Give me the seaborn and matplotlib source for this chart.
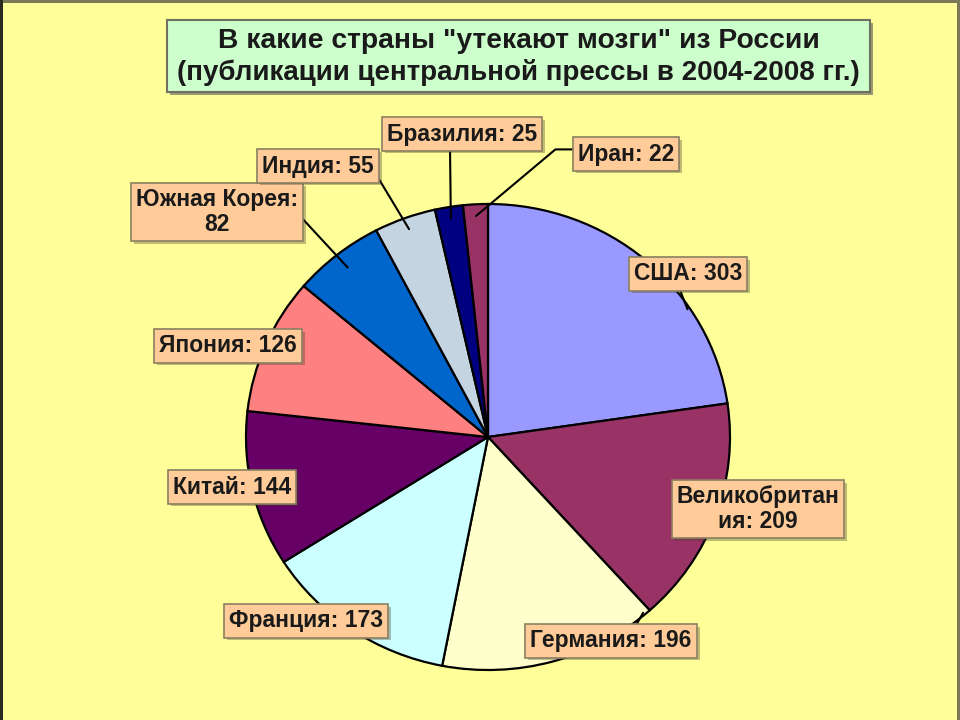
import matplotlib
matplotlib.use("Agg")
import matplotlib.pyplot as plt
import matplotlib.patheffects as pe
from matplotlib.patches import Rectangle
import numpy as np
import seaborn as sns

# ---- data ----
countries = ["США", "Великобритания", "Германия", "Франция", "Китай",
             "Япония", "Южная Корея", "Индия", "Бразилия", "Иран"]
counts = [303, 209, 196, 173, 144, 126, 82, 55, 25, 22]
label_texts = ["США: 303", "Великобритан\nия: 209", "Германия: 196", "Франция: 173",
               "Китай: 144", "Япония: 126", "Южная Корея:\n82", "Индия: 55",
               "Бразилия: 25", "Иран: 22"]
slice_colors = ["#9999FF", "#993366", "#FFFFCC", "#CCFFFF", "#660066",
                "#FF8080", "#0066CC", "#C4D4E0", "#000080", "#993366"]
title_lines = ["В какие страны \"утекают мозги\" из России",
               "(публикации центральной прессы в 2004-2008 гг.)"]

# ---- layout (label centres in pixels from top-left, anchor fraction in wedge, leader start) ----
label_pos = [(688, 274), (758, 509), (611, 641), (306, 621), (232, 487),
             (228, 346), (217, 212), (318, 166), (462, 134), (626, 154)]
anchor_frac = [0.69, 0.5, 0.03, 0.5, 0.5, 0.5, 0.5, 0.5, 0.5, 0.5]
anchor_r = [0.99, 0.97, 0.99, 0.97, 0.97, 0.97, 0.93, 0.95, 0.95, 0.95]
leader_rel = [(0.41, 0.0), None, (0.64, 1.0), None, None, None,
              (1.0, 0.46), (1.0, 0.3), (0.42, 0.0), (0.0, 0.7)]
leader_conn = [None] * 9 + ["angle,angleA=180,angleB=40,rad=0"]

sns.set_theme(style="white")
plt.rcParams["font.family"] = ["Liberation Sans", "DejaVu Sans"]

W, H = 960, 720
fig = plt.figure(figsize=(9.6, 7.2), dpi=100, facecolor="#FFFF99")

# pie axes: centre (488,437) px, radii 242 x 233
cx, cy, rx, ry = 488, 437, 242, 233
ax = fig.add_axes([(cx - rx) / W, (H - cy - ry) / H, 2 * rx / W, 2 * ry / H])
ax.set_facecolor("none")
palette = sns.color_palette(slice_colors)
wedges, _ = ax.pie(counts, colors=palette, startangle=90, counterclock=False,
                   radius=1.0, wedgeprops=dict(edgecolor="black", linewidth=1.6))
ax.set_aspect("auto")
ax.set_xlim(-1, 1)
ax.set_ylim(-1, 1)
ax.axis("off")

total = sum(counts)
cum = np.concatenate([[0], np.cumsum(counts)])
for i, (txt, pos) in enumerate(zip(label_texts, label_pos)):
    frac = (cum[i] + anchor_frac[i] * counts[i]) / total
    ang = np.deg2rad(90 - 360 * frac)
    xy = (anchor_r[i] * np.cos(ang), anchor_r[i] * np.sin(ang))
    arrow = None
    if leader_rel[i] is not None:
        arrow = dict(arrowstyle="-", color="black", lw=1.5, shrinkA=0, shrinkB=0,
                     relpos=leader_rel[i])
        if leader_conn[i]:
            arrow["connectionstyle"] = leader_conn[i]
    ax.annotate(txt, xy=xy, xycoords="data",
                xytext=(pos[0], H - pos[1]), textcoords="figure pixels",
                ha="center", va="center", fontsize=16.5, fontweight="bold",
                color="#1a1a1a", linespacing=1.1, annotation_clip=False,
                bbox=dict(boxstyle="square,pad=0.22", facecolor="#FFCC99",
                          edgecolor="#8a8060", linewidth=1.2,
                          path_effects=[pe.SimplePatchShadow(offset=(2, -2), alpha=0.35),
                                        pe.Normal()]),
                arrowprops=arrow, zorder=5)

# title box
tx0, ty0, tx1, ty1 = 167, 20, 870, 92
fig.patches.append(Rectangle(((tx0 + 3) / W, (H - ty1 - 3) / H), (tx1 - tx0) / W, (ty1 - ty0) / H,
                             transform=fig.transFigure, facecolor="#9a9a70", edgecolor="none", zorder=1))
fig.patches.append(Rectangle((tx0 / W, (H - ty1) / H), (tx1 - tx0) / W, (ty1 - ty0) / H,
                             transform=fig.transFigure, facecolor="#CCFFCC", edgecolor="#707060",
                             linewidth=1.5, zorder=2))
fig.text((tx0 + tx1) / 2 / W, (H - 41) / H, title_lines[0], ha="center", va="center",
         fontsize=20.3, fontweight="bold", color="#1a1a1a", zorder=3)
fig.text((tx0 + tx1) / 2 / W, (H - 72) / H, title_lines[1], ha="center", va="center",
         fontsize=20.0, fontweight="bold", color="#1a1a1a", zorder=3)

# outer frame lines
fig.patches.append(Rectangle((0, 1 - 3 / H), 1, 3 / H, transform=fig.transFigure,
                             facecolor="#7a7a58", edgecolor="none", zorder=1))
fig.patches.append(Rectangle((0, 0), 3 / W, 1, transform=fig.transFigure,
                             facecolor="#2a2a20", edgecolor="none", zorder=1))
fig.patches.append(Rectangle((1 - 3 / W, 0), 3 / W, 1, transform=fig.transFigure,
                             facecolor="#7a7a58", edgecolor="none", zorder=1))

fig.savefig("out.png", dpi=100, facecolor=fig.get_facecolor())
